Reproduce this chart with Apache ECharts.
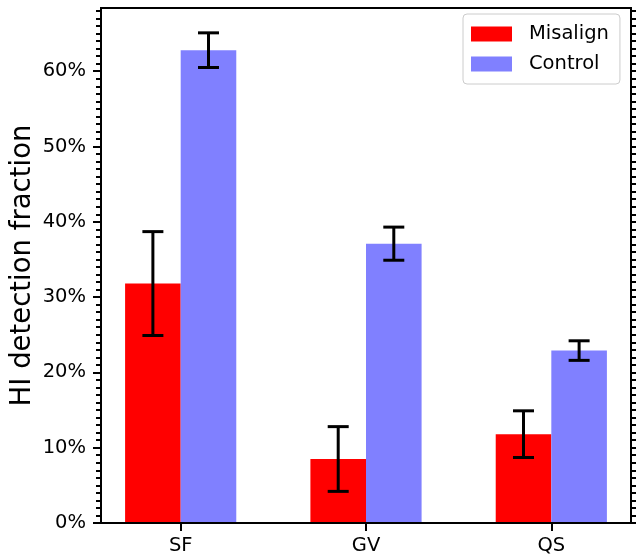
<!DOCTYPE html>
<html>
<head>
<meta charset="utf-8">
<script src="https://cdn.jsdelivr.net/npm/echarts@6/dist/echarts.min.js"></script>
<style>
  html, body { margin: 0; padding: 0; background: #ffffff; }
  #chart { width: 636px; height: 558px; }
</style>
</head>
<body>
<div id="chart"></div>
<script>
// HI detection fraction per galaxy class, misaligned sample vs control
const categories = ['SF', 'GV', 'QS'];
const misalignValues = [0.318, 0.085, 0.118];
const misalignErrors = [0.069, 0.043, 0.031];
const controlValues = [0.628, 0.371, 0.229];
const controlErrors = [0.023, 0.022, 0.013];

// y-axis tick positions and labels
const yMajorTicks = [0, 0.1, 0.2, 0.3, 0.4, 0.5, 0.6];
const yTickLabels = ['0%', '10%', '20%', '30%', '40%', '50%', '60%'];
const yMinorStep = 0.01;
const yMax = 0.684;

const FONT = 'DejaVu Sans';
const BAR_W = 0.3;          // bar width in category units
const CAP_HALF = 10.5;      // error-bar cap half width, px

const yMinorTicks = [];
for (let k = 0; k * yMinorStep <= yMax + 1e-9; k++) {
  yMinorTicks.push(+(k * yMinorStep).toFixed(4));
}
const catPositions = categories.map((_, i) => i);

function yAxisDef(position, ticks, tickLen, withLabels) {
  const ax = {
    type: 'value',
    position: position,
    min: 0,
    max: yMax,
    axisLine: { show: false, onZero: false },
    splitLine: { show: false },
    axisTick: {
      show: true, inside: false, length: tickLen,
      lineStyle: { color: '#000', width: 2 },
      customValues: ticks
    },
    axisLabel: { show: false }
  };
  if (withLabels) {
    ax.axisLabel = {
      show: true,
      customValues: yMajorTicks,
      formatter: function (v) {
        const idx = yMajorTicks.findIndex(t => Math.abs(t - v) < 1e-6);
        return idx >= 0 ? yTickLabels[idx] : '';
      },
      fontFamily: FONT, fontSize: 19.5, color: '#000', margin: 15
    };
    ax.name = 'HI detection fraction';
    ax.nameLocation = 'middle';
    ax.nameGap = 64;
    ax.nameMoveOverlap = false;
    ax.nameTextStyle = { fontFamily: FONT, fontSize: 27.5, color: '#000' };
  }
  return ax;
}

function barSeries(name, values, color, shift) {
  return {
    type: 'custom',
    name: name,
    xAxisIndex: 0,
    yAxisIndex: 0,
    itemStyle: { color: color },
    encode: { x: 0, y: 1 },
    data: values.map((v, i) => [i, v]),
    renderItem: function (params, api) {
      const x = api.value(0), v = api.value(1);
      const p0 = api.coord([x + shift - BAR_W / 2, v]);
      const p1 = api.coord([x + shift + BAR_W / 2, 0]);
      return {
        type: 'rect',
        shape: { x: p0[0], y: p0[1], width: p1[0] - p0[0], height: p1[1] - p0[1] },
        style: { fill: color }
      };
    },
    z: 2
  };
}

function errorSeries(name, values, errors, shift) {
  return {
    type: 'custom',
    name: name,
    xAxisIndex: 0,
    yAxisIndex: 0,
    encode: { x: 0, y: [1, 2] },
    data: values.map((v, i) => [i, v - errors[i], v + errors[i]]),
    renderItem: function (params, api) {
      const x = api.value(0) + shift;
      const lo = api.coord([x, api.value(1)]);
      const hi = api.coord([x, api.value(2)]);
      const st = { stroke: '#000', lineWidth: 3 };
      return {
        type: 'group',
        children: [
          { type: 'line', shape: { x1: lo[0], y1: lo[1], x2: hi[0], y2: hi[1] }, style: st },
          { type: 'line', shape: { x1: lo[0] - CAP_HALF, y1: lo[1], x2: lo[0] + CAP_HALF, y2: lo[1] }, style: st },
          { type: 'line', shape: { x1: hi[0] - CAP_HALF, y1: hi[1], x2: hi[0] + CAP_HALF, y2: hi[1] }, style: st }
        ]
      };
    },
    z: 3
  };
}

const chart = echarts.init(document.getElementById('chart'), null, { renderer: 'canvas' });
chart.setOption({
  animation: false,
  backgroundColor: '#ffffff',
  grid: {
    show: true, left: 101, right: 5, top: 8, bottom: 35,
    containLabel: false, outerBoundsMode: 'none',
    borderColor: '#000', borderWidth: 2, backgroundColor: 'transparent', z: 5
  },
  legend: {
    data: [{ name: 'Misalign', icon: 'rect' }, { name: 'Control', icon: 'rect' }],
    orient: 'vertical',
    left: 463, top: 14,
    itemWidth: 41, itemHeight: 15, itemGap: 8,
    padding: [9, 11, 9, 8],
    borderColor: '#cccccc', borderWidth: 1, borderRadius: 4,
    backgroundColor: 'rgba(255,255,255,0.8)',
    selectedMode: false,
    textStyle: { fontFamily: FONT, fontSize: 19.5, color: '#000', lineHeight: 22, padding: [0, 0, 0, 12] }
  },
  xAxis: {
    type: 'value',
    min: -0.43, max: 2.43,
    axisLine: { show: false, onZero: false },
    splitLine: { show: false },
    axisTick: {
      show: true, length: 8, lineStyle: { color: '#000', width: 2 },
      customValues: catPositions
    },
    axisLabel: {
      customValues: catPositions,
      formatter: v => categories[Math.round(v)] || '',
      fontFamily: FONT, fontSize: 19.5, color: '#000', margin: 13
    }
  },
  yAxis: [
    yAxisDef('left', yMajorTicks, 8, true),
    yAxisDef('left', yMinorTicks, 5, false),
    yAxisDef('right', yMajorTicks, 8, false),
    yAxisDef('right', yMinorTicks, 5, false)
  ],
  series: [
    barSeries('Misalign', misalignValues, '#ff0000', -BAR_W / 2),
    barSeries('Control', controlValues, '#8080ff', BAR_W / 2),
    errorSeries('Misalign error', misalignValues, misalignErrors, -BAR_W / 2),
    errorSeries('Control error', controlValues, controlErrors, BAR_W / 2)
  ]
});
</script>
</body>
</html>
